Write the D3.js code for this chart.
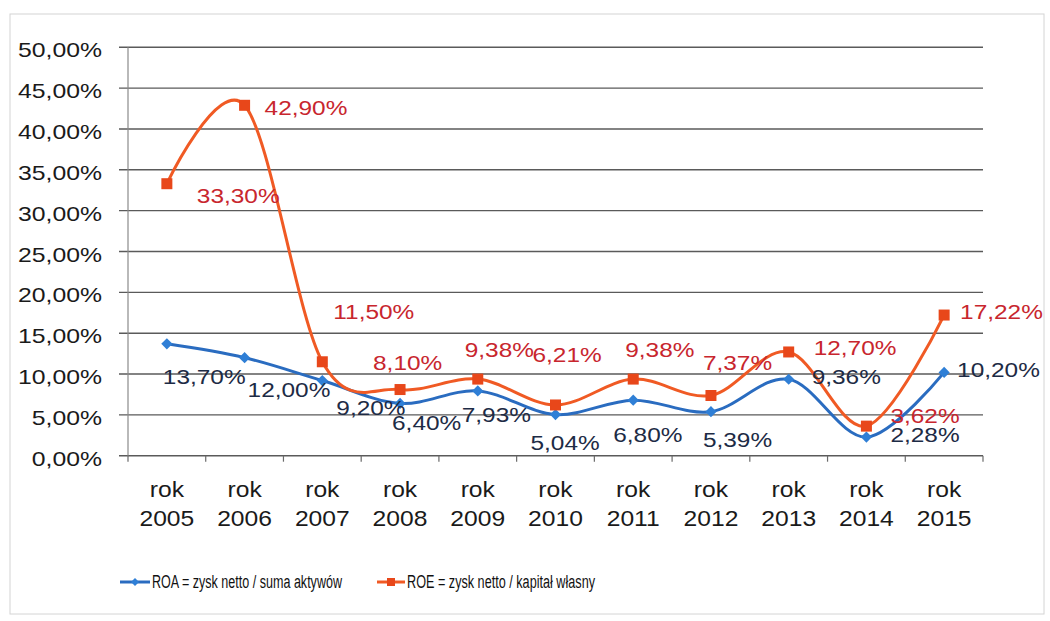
<!DOCTYPE html>
<html>
<head>
<meta charset="utf-8">
<script src="https://cdn.jsdelivr.net/npm/d3@7"></script>
<style>
  html, body { margin: 0; padding: 0; background: #fff; }
  svg { display: block; }
  text { font-family: "Liberation Sans", Arial, sans-serif; }
</style>
</head>
<body>
<svg id="chart" width="1050" height="621"></svg>
<script>
// ---- data ----
const yearsTop = ["rok","rok","rok","rok","rok","rok","rok","rok","rok","rok","rok"];
const years = ["2005","2006","2007","2008","2009","2010","2011","2012","2013","2014","2015"];
const roa = [13.70, 12.00, 9.20, 6.40, 7.93, 5.04, 6.80, 5.39, 9.36, 2.28, 10.20];
const roe = [33.30, 42.90, 11.50, 8.10, 9.38, 6.21, 9.38, 7.37, 12.70, 3.62, 17.22];
const yTicks = [0, 5, 10, 15, 20, 25, 30, 35, 40, 45, 50];
const seriesNames = ["ROA = zysk netto / suma aktywów", "ROE = zysk netto / kapitał własny"];

// label offsets (left edge dx, vertical centre dy) relative to each point
const roaLabelOff = [[-4,33],[3,32],[14,27],[-8,20],[-16,24],[-25,28],[-20,35],[-8,28],[23,-2],[24,-2],[13,-2]];
const roeLabelOff = [[30,12],[20,3],[11,-50],[-27,-27],[-13,-29],[-23,-50],[-8,-29],[-8,-33],[25,-4],[24,-10],[16,-3]];

const fmt = v => v.toFixed(2).replace(".", ",") + "%";

const svg = d3.select("#chart");

function stretch(sel, k) {
  sel.each(function() {
    const w = this.getComputedTextLength();
    d3.select(this).attr("textLength", w * k).attr("lengthAdjust", "spacingAndGlyphs");
  });
}

// frame
svg.append("rect").attr("x", 10).attr("y", 14).attr("width", 1034).attr("height", 600)
  .attr("fill", "none").attr("stroke", "#d4d4d4").attr("stroke-width", 1);

const x = d3.scaleBand().domain(years).range([128, 983]).padding(0);
const y = d3.scaleLinear().domain([0, 50]).range([455.7, 47.3]);

// gridlines
svg.append("g").selectAll("line").data(yTicks).join("line")
  .attr("x1", 119).attr("x2", 983)
  .attr("y1", d => y(d)).attr("y2", d => y(d))
  .attr("stroke", "#5a5a5a").attr("stroke-width", 1.4);

// y axis line
svg.append("line").attr("x1", 128).attr("x2", 128).attr("y1", y(50)).attr("y2", y(0))
  .attr("stroke", "#8a8a8a").attr("stroke-width", 1.2);

// x ticks
const bounds = years.map(d => x(d)).concat([x.range()[1]]);
svg.append("g").selectAll("line").data(bounds).join("line")
  .attr("x1", d => d).attr("x2", d => d).attr("y1", y(0)).attr("y2", y(0) + 6)
  .attr("stroke", "#6a6a6a").attr("stroke-width", 1.2);

// y tick labels
const yl = svg.append("g").selectAll("text").data(yTicks).join("text")
  .attr("x", 102).attr("y", d => y(d) + 10)
  .attr("text-anchor", "end")
  .attr("font-size", 21).attr("fill", "#1a1a1a")
  .text(d => fmt(d));
stretch(yl, 1.18);

// x labels
const xg = svg.append("g");
const xl1 = xg.selectAll("text.top").data(years).join("text").attr("class", "top")
  .attr("x", d => x(d) + x.bandwidth() / 2).attr("y", 497)
  .attr("text-anchor", "middle").attr("font-size", 22).attr("fill", "#1a1a1a")
  .text((d, i) => yearsTop[i]);
stretch(xl1, 1.12);
const xl2 = xg.selectAll("text.bot").data(years).join("text").attr("class", "bot")
  .attr("x", d => x(d) + x.bandwidth() / 2).attr("y", 526)
  .attr("text-anchor", "middle").attr("font-size", 22).attr("fill", "#1a1a1a")
  .text(d => d);
stretch(xl2, 1.12);

const cx = i => x(years[i]) + x.bandwidth() / 2;
const line = d3.line().x((d, i) => cx(i)).y(d => y(d)).curve(d3.curveCardinal.tension(0));

const roaColor = "#2a6cc0", roaMark = "#2f7fd6";
const roeColor = "#f05a24", roeMark = "#e8471a";

svg.append("path").datum(roa).attr("d", line).attr("fill", "none")
  .attr("stroke", roaColor).attr("stroke-width", 3);
svg.append("g").selectAll("path").data(roa).join("path")
  .attr("d", d3.symbol().type(d3.symbolDiamond2).size(80))
  .attr("transform", (d, i) => `translate(${cx(i)},${y(d)})`)
  .attr("fill", roaMark);

svg.append("path").datum(roe).attr("d", line).attr("fill", "none")
  .attr("stroke", roeColor).attr("stroke-width", 3);
svg.append("g").selectAll("rect").data(roe).join("rect")
  .attr("x", (d, i) => cx(i) - 5.5).attr("y", d => y(d) - 5.5)
  .attr("width", 11).attr("height", 11).attr("fill", roeMark);

// data labels
const la = svg.append("g").selectAll("text").data(roa).join("text")
  .attr("x", (d, i) => cx(i) + roaLabelOff[i][0])
  .attr("y", (d, i) => y(d) + roaLabelOff[i][1] + 7)
  .attr("font-size", 20).attr("fill", "#1d2b45")
  .text(d => fmt(d));
stretch(la, 1.22);
const le = svg.append("g").selectAll("text").data(roe).join("text")
  .attr("x", (d, i) => cx(i) + roeLabelOff[i][0])
  .attr("y", (d, i) => y(d) + roeLabelOff[i][1] + 7)
  .attr("font-size", 20).attr("fill", "#c8262e")
  .text(d => fmt(d));
stretch(le, 1.22);

// legend
const lg = svg.append("g");
lg.append("line").attr("x1", 120).attr("x2", 150).attr("y1", 582).attr("y2", 582)
  .attr("stroke", roaColor).attr("stroke-width", 3);
lg.append("path").attr("d", d3.symbol().type(d3.symbolDiamond2).size(40))
  .attr("transform", "translate(135,582)").attr("fill", roaMark);
lg.append("text").attr("x", 152).attr("y", 588).attr("font-size", 18).attr("fill", "#111")
  .attr("textLength", 190).attr("lengthAdjust", "spacingAndGlyphs").text(seriesNames[0]);
lg.append("line").attr("x1", 377).attr("x2", 405).attr("y1", 582).attr("y2", 582)
  .attr("stroke", roeColor).attr("stroke-width", 3);
lg.append("rect").attr("x", 387).attr("y", 578).attr("width", 8).attr("height", 8).attr("fill", roeMark);
lg.append("text").attr("x", 407).attr("y", 588).attr("font-size", 18).attr("fill", "#111")
  .attr("textLength", 188).attr("lengthAdjust", "spacingAndGlyphs").text(seriesNames[1]);
</script>
</body>
</html>
